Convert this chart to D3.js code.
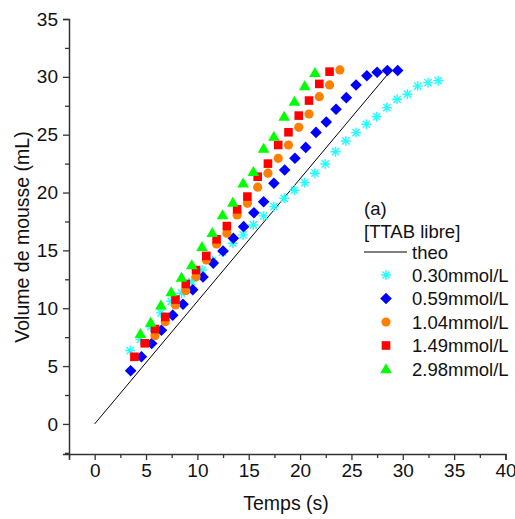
<!DOCTYPE html>
<html><head><meta charset="utf-8">
<script src="https://cdn.jsdelivr.net/npm/d3@7"></script>
<style>html,body{margin:0;padding:0;background:#fff;}svg{display:block;font-family:"Liberation Sans",Arial,sans-serif;}</style>
</head><body>
<svg id="chart" width="515" height="519"></svg>
<script>
// ---- data ----
const xTicks = [0,5,10,15,20,25,30,35,40];
const yTicks = [0,5,10,15,20,25,30,35];
const theoT = [0, 28.6];
const theoV = [0, 30.3];

const t030 = [3.45,4.45,5.45,6.45,7.45,8.45,9.45,10.45,11.45,12.45,13.45,14.45,15.45,16.45,17.45,18.45,19.45,20.45,21.45,22.45,23.45,24.45,25.45,26.45,27.45,28.45,29.45,30.45,31.45,32.45,33.45];
const v030 = [6.34,7.3,8.4,9.6,10.6,11.3,12.3,13.3,14.1,14.85,15.62,16.34,17.2,17.98,18.78,19.5,20.2,20.86,21.67,22.47,23.53,24.46,25.18,25.9,26.56,27.34,28.06,28.5,29.2,29.5,29.67];

const t059 = [3.5,4.55,5.55,6.5,7.6,8.6,9.55,10.55,11.55,12.5,13.5,14.5,15.5,16.45,17.45,18.5,19.5,20.55,21.55,22.55,23.5,24.5,25.45,26.5,27.5,28.5,29.5];
const v059 = [4.6,5.8,6.95,8.1,9.4,10.35,11.6,12.7,13.9,14.95,16.05,17.05,18.25,19.2,20.8,21.95,22.96,23.9,25.2,26.1,27.2,28.2,29.3,30.1,30.4,30.55,30.55];

const t104 = [5.87,6.87,7.87,8.87,9.87,10.87,11.87,12.87,13.87,14.87,15.87,16.87,17.87,18.87,19.87,20.87,21.87,22.87,23.87];
const v104 = [7.63,8.84,10.28,11.52,12.73,14.17,15.56,16.48,18.06,19.07,20.46,21.67,22.96,24.11,25.64,26.79,28.29,29.3,30.6];

const t149 = [3.87,4.87,5.87,6.87,7.87,8.87,9.87,10.87,11.87,12.87,13.87,14.87,15.87,16.87,17.87,18.87,19.87,20.87,21.87,22.87];
const v149 = [5.8,6.97,8.2,9.25,10.75,12.1,13.3,14.52,15.96,17.1,18.55,19.65,21.37,22.5,24.11,25.21,26.65,27.95,29.39,30.45];

const t298 = [4.45,5.45,6.45,7.45,8.45,9.45,10.45,11.45,12.45,13.45,14.45,15.45,16.45,17.45,18.45,19.45,20.45,21.45];
const v298 = [7.8,8.76,10.25,11.4,12.65,13.73,15.32,16.53,18.06,19.13,20.8,21.8,23.8,24.83,26.56,27.86,29.2,30.36];

const seriesNames = ["0.30mmol/L","0.59mmol/L","1.04mmol/L","1.49mmol/L","2.98mmol/L"];
const seriesColors = ["#22ffff","#0000ff","#ff8000","#ff0000","#00ff00"];
const seriesShapes = ["asterisk","diamond","circle","square","triangle"];
const seriesT = [t030,t059,t104,t149,t298];
const seriesV = [v030,v059,v104,v149,v298];

// ---- layout ----
const svg = d3.select("#chart");
const x = d3.scaleLinear().domain([-2.5,40]).range([69,505.5]);
const y = d3.scaleLinear().domain([-2.6,35]).range([454,19]);

function shapePath(kind){
  switch(kind){
    case "diamond": return "M0,-5.8L5.8,0L0,5.8L-5.8,0Z";
    case "circle": return "M4.6,0A4.6,4.6 0 1,1 -4.6,0A4.6,4.6 0 1,1 4.6,0Z";
    case "square": return "M-4.3,-4.3H4.3V4.3H-4.3Z";
    case "triangle": return "M0,-5.8L5.8,4.2L-5.8,4.2Z";
    case "asterisk": return "M-5,0H5M0,-5V5M-3.6,-3.6L3.6,3.6M-3.6,3.6L3.6,-3.6";
  }
}

// axes
const xAxis = d3.axisBottom(x).tickValues(xTicks).tickSize(6).tickPadding(4).tickFormat(d3.format("d"));
const xMinor = d3.axisBottom(x).tickValues(d3.range(-2.5,40,5)).tickSize(4).tickFormat("");
const yAxis = d3.axisLeft(y).tickValues(yTicks).tickSize(6).tickPadding(5).tickFormat(d3.format("d"));
const yMinor = d3.axisLeft(y).tickValues(d3.range(-2.5,35,5)).tickSize(4).tickFormat("");

const gx = svg.append("g").attr("transform","translate(0,454)").call(xAxis);
svg.append("g").attr("transform","translate(0,454)").call(xMinor).select(".domain").remove();
const gy = svg.append("g").attr("transform","translate(69,0)").call(yAxis);
svg.append("g").attr("transform","translate(69,0)").call(yMinor).select(".domain").remove();
svg.selectAll(".domain").attr("stroke","#333").attr("stroke-width",1.5);
svg.selectAll(".tick line").attr("stroke","#333").attr("stroke-width",1.3);
gx.selectAll(".tick text").attr("font-size",19).attr("fill","#111").attr("font-family","Liberation Sans, Arial, sans-serif");
gy.selectAll(".tick text").attr("font-size",19).attr("fill","#111").attr("font-family","Liberation Sans, Arial, sans-serif");

svg.append("text").attr("x",286).attr("y",510).attr("text-anchor","middle")
  .attr("font-size",19.5).attr("fill","#111").text("Temps (s)");
svg.append("text").attr("transform","translate(29,237) rotate(-90)").attr("text-anchor","middle")
  .attr("font-size",19.5).attr("fill","#111").text("Volume de mousse (mL)");

// theo line
const line = d3.line().x(d=>x(d[0])).y(d=>y(d[1]));
svg.append("path").datum(theoT.map((t,i)=>[t,theoV[i]])).attr("d",line)
  .attr("fill","none").attr("stroke","#000").attr("stroke-width",1);

// series
seriesNames.forEach((name,i)=>{
  const pts = seriesT[i].map((t,j)=>[t,seriesV[i][j]]);
  const g = svg.append("g");
  const isAst = seriesShapes[i]==="asterisk";
  g.selectAll("path").data(pts).join("path")
    .attr("transform",d=>`translate(${x(d[0])},${y(d[1])})`)
    .attr("d",shapePath(seriesShapes[i]))
    .attr("fill",isAst?"none":seriesColors[i])
    .attr("stroke",isAst?seriesColors[i]:"none")
    .attr("stroke-width",isAst?1.4:0);
});

// legend
const lg = svg.append("g").attr("font-size",18.5).attr("fill","#111");
lg.append("text").attr("x",364).attr("y",215).text("(a)");
lg.append("text").attr("x",364).attr("y",238).text("[TTAB libre]");
lg.append("line").attr("x1",364).attr("x2",407).attr("y1",252).attr("y2",252).attr("stroke","#000").attr("stroke-width",1);
lg.append("text").attr("x",412).attr("y",258.5).text("theo");
const rowY = [275,298.5,322,345.5,369];
seriesNames.forEach((name,i)=>{
  const isAst = seriesShapes[i]==="asterisk";
  lg.append("path").attr("transform",`translate(386,${rowY[i]})`).attr("d",shapePath(seriesShapes[i]))
    .attr("fill",isAst?"none":seriesColors[i]).attr("stroke",isAst?seriesColors[i]:"none").attr("stroke-width",isAst?1.4:0);
  lg.append("text").attr("x",412).attr("y",rowY[i]+6.5).text(name);
});
</script>
</body></html>
